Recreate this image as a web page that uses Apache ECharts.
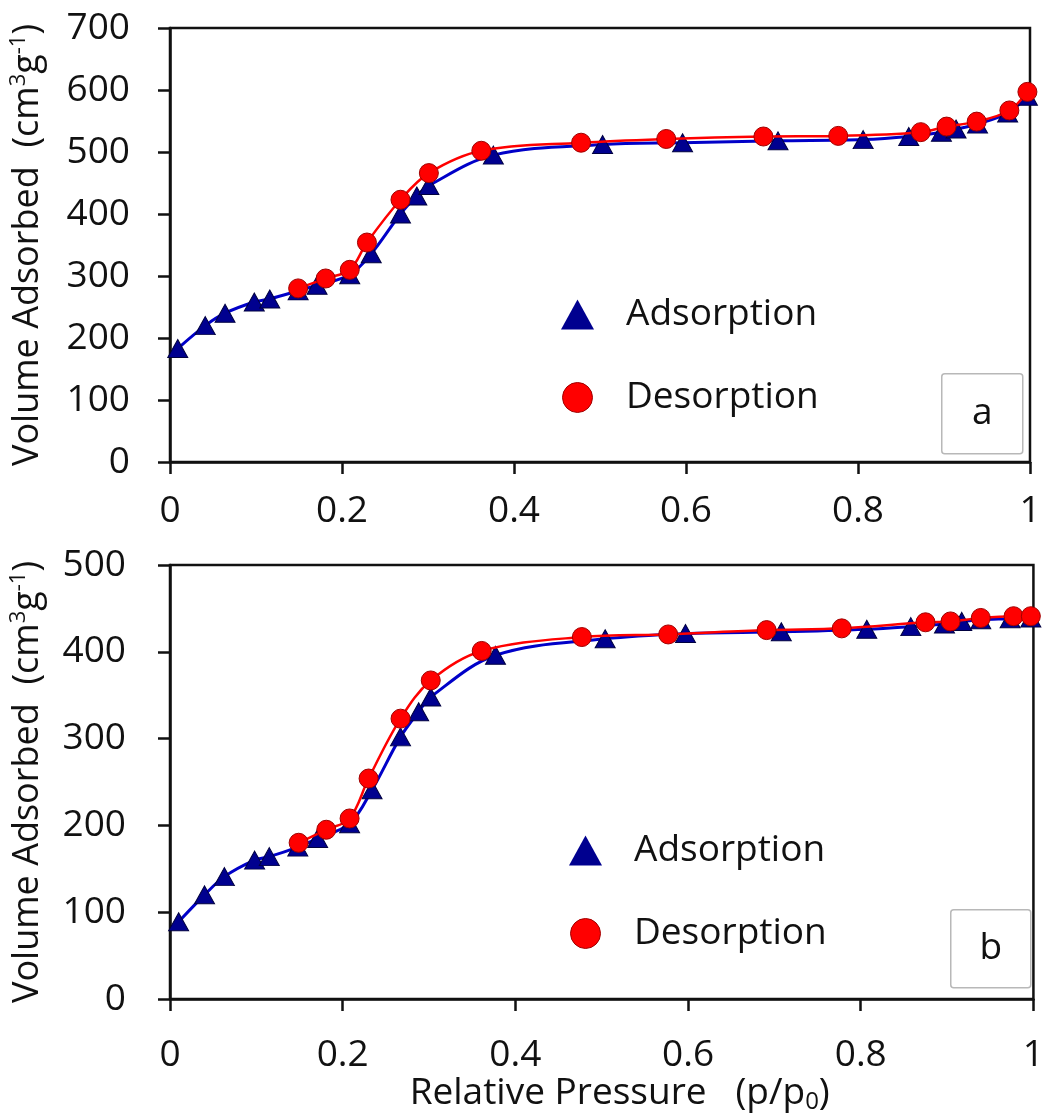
<!DOCTYPE html>
<html><head><meta charset="utf-8">
<script src="https://cdn.jsdelivr.net/npm/echarts@6/dist/echarts.min.js"></script>
<style>html,body{margin:0;padding:0;background:#fff}#c{width:1047px;height:1120px}</style>
</head><body><div id="c"></div>
<script>
// ---- data (relative pressure p/p0, volume adsorbed cm3/g) ----
const xTickLabels = ['0', '0.2', '0.4', '0.6', '0.8', '1'];
const yTicksA = [0, 100, 200, 300, 400, 500, 600, 700];
const yTicksB = [0, 100, 200, 300, 400, 500];
const seriesNames = ['Adsorption', 'Desorption'];
const panelLabels = ['a', 'b'];

const adsA_x = [0.009,0.041,0.064,0.098,0.116,0.149,0.171,0.209,0.234,0.268,0.287,0.301,0.376,0.503,0.596,0.707,0.806,0.859,0.897,0.914,0.939,0.974,0.997];
const adsA_y = [183,220,240,258,263,276,285,302,336,400,429,446,495,512,515,518,520,525,532,537,545,563,590];
const desA_x = [0.149,0.181,0.209,0.229,0.268,0.301,0.362,0.478,0.577,0.690,0.777,0.873,0.903,0.938,0.976,0.997];
const desA_y = [280,296,310,354,423,466,502,515,521,525,526,532,541,549,567,597];

const adsB_x = [0.010,0.040,0.063,0.098,0.115,0.148,0.171,0.208,0.234,0.267,0.288,0.302,0.377,0.504,0.597,0.708,0.807,0.858,0.897,0.917,0.939,0.973,0.997];
const adsB_y = [89,120,141,160,164,175,185,202,241,302,331,348,396,415,421,423,426,429,432,435,437,438,439];
const desB_x = [0.149,0.181,0.208,0.230,0.267,0.302,0.361,0.477,0.577,0.691,0.778,0.875,0.904,0.939,0.977,0.997];
const desB_y = [180,195,208,254,323,367,401,417,420,425,427,434,435,439,441,441];

const zip = (xs, ys) => xs.map((x, i) => [x, ys[i]]);

const FONT = 'Open Sans';
const BLUE = '#00008f', LBLUE = '#0000c8', RED = '#ff0000';
const BIG = 37;

function xAxis(gi, withName) {
  const o = {
    type: 'value', gridIndex: gi, min: 0, max: 1, interval: 0.2,
    axisLine: { show: true, onZero: false, lineStyle: { color: '#111', width: 2.5 } },
    axisTick: { show: true, inside: false, length: 12, lineStyle: { color: '#111', width: 2.5 } },
    axisLabel: { fontFamily: FONT, fontSize: BIG, color: '#111', margin: gi === 0 ? 31 : 38,
      formatter: v => xTickLabels[Math.round(v / 0.2)] },
    splitLine: { show: false }
  };
  if (withName) {
    o.name = '{t|Relative Pressure   (p/p}{b|0}{t|)}';
    o.nameLocation = 'middle';
    o.nameGap = 70;
    o.nameTextStyle = { padding: [0, 0, 0, 36], rich: {
      t: { fontFamily: FONT, fontSize: 37, color: '#111', lineHeight: 42 },
      b: { fontFamily: FONT, fontSize: 24, color: '#111', verticalAlign: 'bottom', lineHeight: 42 } } };
  }
  return o;
}
function yAxis(gi, ticks, margin) {
  return {
    type: 'value', gridIndex: gi, min: ticks[0], max: ticks[ticks.length - 1], interval: 100,
    axisLine: { show: true, onZero: false, lineStyle: { color: '#111', width: 2.5 } },
    axisTick: { show: true, inside: false, length: 12, lineStyle: { color: '#111', width: 2.5 } },
    axisLabel: { fontFamily: FONT, fontSize: BIG, color: '#111', margin: margin },
    splitLine: { show: false },
    name: '{t|Volume Adsorbed  (cm}{s|3}{t|g}{s|-1}{t|)}',
    nameLocation: 'middle', nameRotate: 90, nameGap: 122,
    nameTextStyle: { rich: {
      t: { fontFamily: FONT, fontSize: 36, color: '#111', lineHeight: 40 },
      s: { fontFamily: FONT, fontSize: 22, color: '#111', verticalAlign: 'top', lineHeight: 40 } } }
  };
}
function lineSeries(name, gi, data, isAds) {
  return {
    name: name, type: 'line', xAxisIndex: gi, yAxisIndex: gi,
    data: data, smooth: 0.35, clip: false,
    symbol: isAds ? 'triangle' : 'circle',
    symbolSize: isAds ? [20, 18] : 19,
    lineStyle: { color: isAds ? LBLUE : RED, width: isAds ? 3 : 2.5 },
    itemStyle: isAds ? { color: BLUE, borderColor: '#000040', borderWidth: 1 }
                     : { color: RED, borderColor: '#a00000', borderWidth: 1 },
    emphasis: { disabled: true }, animation: false, z: isAds ? 2 : 3
  };
}
function legend(top, left) {
  return {
    orient: 'vertical', top: top, left: left, itemWidth: 33, itemHeight: 30, itemGap: 46,
    selectedMode: false,
    textStyle: { fontFamily: FONT, fontSize: BIG, color: '#111', padding: [0, 0, 0, 27] },
    data: [
      { name: seriesNames[0], icon: 'triangle', itemStyle: { color: BLUE, borderWidth: 0 } },
      { name: seriesNames[1], icon: 'circle', itemStyle: { color: RED, borderColor: '#a00000', borderWidth: 1 } }
    ]
  };
}
function labelBox(x, y, w, h, txt) {
  return { type: 'group', left: x, top: y, children: [
    { type: 'rect', shape: { x: 0, y: 0, width: w, height: h, r: 3 },
      style: { fill: '#fff', stroke: '#b8b8b8', lineWidth: 1.5 } },
    { type: 'text', x: w / 2, y: h / 2,
      style: { text: txt, font: BIG + 'px "' + FONT + '"', fill: '#111', align: 'center', verticalAlign: 'middle' } }
  ] };
}

const chart = echarts.init(document.getElementById('c'), null, { renderer: 'canvas' });
chart.setOption({
  backgroundColor: '#fff',
  animation: false,
  grid: [
    { left: 166, top: 28, width: 864, height: 434, show: true, borderColor: '#111', borderWidth: 2.5, backgroundColor: 'transparent' },
    { left: 170, top: 565, width: 867, height: 434, show: true, borderColor: '#111', borderWidth: 2.5, backgroundColor: 'transparent' }
  ],
  xAxis: [xAxis(0, false), xAxis(1, true)],
  yAxis: [yAxis(0, yTicksA, 40), yAxis(1, yTicksB, 44)],
  legend: [legend(291, 556), legend(827, 564)],
  series: [
    lineSeries(seriesNames[0], 0, zip(adsA_x, adsA_y), true),
    lineSeries(seriesNames[1], 0, zip(desA_x, desA_y), false),
    lineSeries(seriesNames[0], 1, zip(adsB_x, adsB_y), true),
    lineSeries(seriesNames[1], 1, zip(desB_x, desB_y), false)
  ],
  graphic: [
    labelBox(941, 373, 81, 80, panelLabels[0]),
    labelBox(950, 909, 80, 78, panelLabels[1])
  ]
});
</script></body></html>
